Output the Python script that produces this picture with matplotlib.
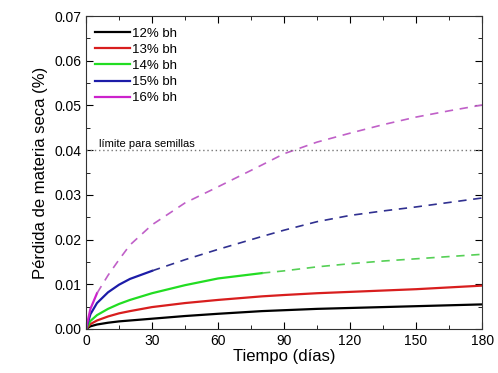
import numpy as np
import matplotlib.pyplot as plt
from matplotlib.ticker import MultipleLocator

plt.rcParams['font.family'] = ['Liberation Sans', 'DejaVu Sans']

# datos
dias = [0, 2, 5, 10, 15, 20, 30, 45, 60, 80, 90, 105, 120, 135, 150, 165, 180]
bh12 = [0, 0.0006, 0.0010, 0.0014, 0.0017, 0.0019, 0.0023, 0.0029, 0.0034, 0.0040, 0.0042,
        0.0045, 0.0047, 0.0049, 0.0051, 0.0053, 0.0055]
bh13 = [0, 0.0011, 0.0019, 0.0028, 0.0035, 0.0040, 0.0049, 0.0058, 0.0065, 0.0073, 0.0076,
        0.0080, 0.0083, 0.0086, 0.0089, 0.0093, 0.0097]
bh14 = [0, 0.0018, 0.0031, 0.0045, 0.0056, 0.0065, 0.0080, 0.0098, 0.0113, 0.0125, 0.0130,
        0.0139, 0.0146, 0.0152, 0.0157, 0.0162, 0.0167]
bh15 = [0, 0.0033, 0.0058, 0.0082, 0.0099, 0.0112, 0.0130, 0.0155, 0.0178, 0.0207, 0.0221,
        0.0240, 0.0254, 0.0264, 0.0273, 0.0283, 0.0293]
bh16 = [0, 0.0045, 0.0080, 0.0120, 0.0155, 0.0188, 0.0233, 0.0282, 0.0318, 0.0367, 0.0392,
        0.0418, 0.0438, 0.0457, 0.0474, 0.0488, 0.0501]

series = [bh12, bh13, bh14, bh15, bh16]
etiquetas = ['12% bh', '13% bh', '14% bh', '15% bh', '16% bh']
colores = ['black', '#d81e1e', '#22dd22', '#1c1ca8', '#cc22cc']
colores_dash = ['black', '#d81e1e', '#55d055', '#303090', '#c060c8']
corte = [180, 180, 80, 30, 5]   # hasta donde la curva es continua
limite = 0.04

fig = plt.figure(figsize=(4.98, 3.73), dpi=100)
ax = fig.add_axes([0.1727, 0.118, 0.7953, 0.839])

t = np.array(dias)
for y, lab, c, cd, tc in zip(series, etiquetas, colores, colores_dash, corte):
    y = np.array(y)
    m = t <= tc
    ax.plot(t[m], y[m], color=c, lw=1.6, label=lab)
    if tc < 180:
        m2 = t >= tc
        ax.plot(t[m2], y[m2], color=cd, lw=1.2, ls=(0, (5, 4)))

ax.axhline(limite, color='#777777', lw=1.0, ls=(0, (1, 2)))
ax.text(6, limite + 0.0006, 'límite para semillas', fontsize=8)

ax.set_xlim(0, 180)
ax.set_ylim(0, 0.07)
ax.xaxis.set_major_locator(MultipleLocator(30))
ax.xaxis.set_minor_locator(MultipleLocator(15))
ax.yaxis.set_major_locator(MultipleLocator(0.01))
ax.yaxis.set_minor_locator(MultipleLocator(0.005))
ax.yaxis.set_major_formatter(plt.FormatStrFormatter('%.2f'))
ax.tick_params(which='both', direction='in', top=True, right=True, labelsize=10)
ax.tick_params(which='major', length=5)
ax.tick_params(which='minor', length=3)
for s in ax.spines.values():
    s.set_color('#333333')

ax.set_xlabel('Tiempo (días)', fontsize=12, labelpad=1)
ax.set_ylabel('Pérdida de materia seca (%)', fontsize=12)

ax.legend(loc='upper left', frameon=False, fontsize=9.5, handlelength=2.6,
          handletextpad=0.2, labelspacing=0.3, borderaxespad=0.3,
          bbox_to_anchor=(0.0, 0.993))

fig.savefig('out.png', dpi=100)
